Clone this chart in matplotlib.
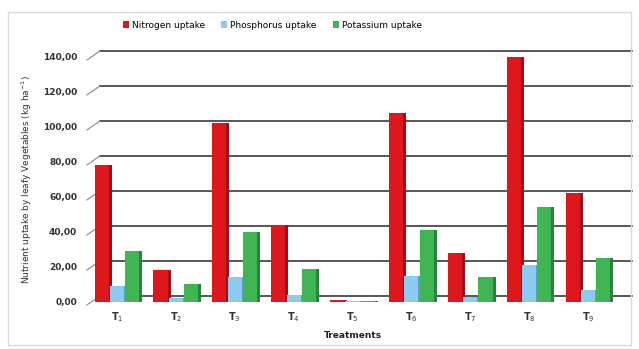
import matplotlib
matplotlib.use("Agg")
import matplotlib.pyplot as plt
import matplotlib.transforms as mtransforms
from matplotlib.patches import Rectangle
import numpy as np

# values
treatments = ["T$_1$", "T$_2$", "T$_3$", "T$_4$", "T$_5$", "T$_6$", "T$_7$", "T$_8$", "T$_9$"]
nitrogen = [78, 18, 102, 44, 1.0, 108, 28, 140, 62]
phosphorus = [9, 2, 14, 4, 0.8, 15, 3, 21, 7]
potassium = [29, 10, 40, 19, 0.8, 41, 14, 54, 25]
yticks = [0, 20, 40, 60, 80, 100, 120, 140]

colors = ["#de171c", "#8ccaf0", "#3fb553"]
sides = ["#a50d12", "#5a9fcf", "#23843a"]
names = ["Nitrogen uptake", "Phosphorus uptake", "Potassium uptake"]

fig = plt.figure(figsize=(6.39, 3.49), dpi=100)
fig.patches.append(Rectangle((0.012, 0.012), 0.976, 0.955, transform=fig.transFigure,
                             fill=False, edgecolor="#d8d8d8", linewidth=1.0))
ax = fig.add_axes([0.136, 0.1347, 0.833, 0.702])

x = np.arange(len(treatments))
w = 0.24
offsets = [-0.26, 0.0, 0.26]
xmin, xmax = -0.51, 8.53
ax.set_xlim(xmin, xmax)
ax.set_ylim(0, 140)

# back wall gridlines, shifted up/right like the 3D Excel wall
dx, dy = 13, 6
shift = mtransforms.offset_copy(ax.transData, fig=fig, x=dx, y=dy, units="dots")
for v in yticks:
    ax.plot([xmin, xmax], [v, v], color="#3a3a3a", lw=1.2, transform=shift,
            zorder=1, clip_on=False)
    px, py = ax.transData.transform((xmin, v))
    ax.plot([px, px + dx], [py - 3, py + dy], color="#888888", lw=0.8,
            transform=mtransforms.IdentityTransform(), zorder=1, clip_on=False)

for vals, off, c, s, n in zip([nitrogen, phosphorus, potassium], offsets, colors, sides, names):
    ax.bar(x + off, vals, w, color=c, edgecolor="none", zorder=3, label=n)
    # darker side strip to mimic the 3D bars
    ax.bar(x + off + w * 0.5 + 0.025, vals, 0.05, color=s, edgecolor="none", zorder=2)

ax.set_yticks(yticks)
ax.set_yticklabels([f"{v:.2f}".replace(".", ",") for v in yticks], fontsize=6.5,
                   color="#333333", fontweight="bold")
down = mtransforms.ScaledTranslation(0, -3 / 100, fig.dpi_scale_trans)
for lbl in ax.get_yticklabels():
    lbl.set_transform(lbl.get_transform() + down)
ax.set_xticks(x)
ax.set_xticklabels(treatments, fontsize=7, color="#333333", fontweight="bold")
ax.tick_params(axis="x", length=0, pad=6)
ax.tick_params(axis="y", length=0, pad=7)
for sp in ax.spines.values():
    sp.set_visible(False)

ax.set_xlabel("Treatments", fontsize=6.5, fontweight="bold", color="#222222", labelpad=5)
ax.set_ylabel("Nutrient uptake by leafy Vegetables (kg ha$^{-1}$)", fontsize=6.5,
              color="#333333", labelpad=6)

ax.legend(loc="center", bbox_to_anchor=(0.348, 1.13), ncol=3, frameon=False, fontsize=6.5,
          handlelength=0.7, handleheight=0.7, handletextpad=0.3, columnspacing=1.8)

fig.savefig("out.png", dpi=100)
